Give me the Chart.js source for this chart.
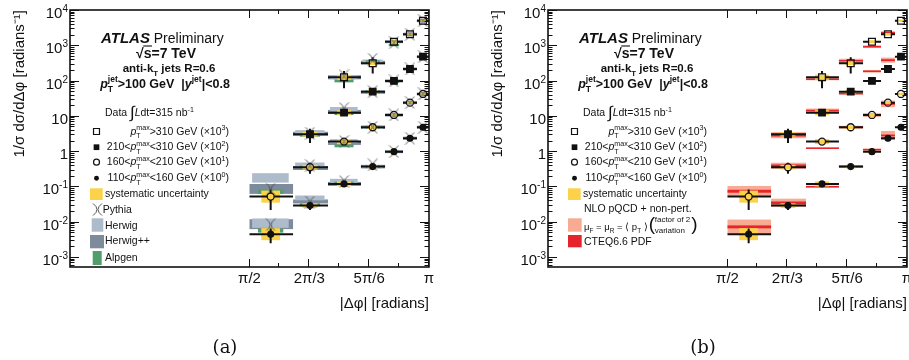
<!DOCTYPE html>
<html>
<head>
<meta charset="utf-8">
<title>Dijet azimuthal decorrelations</title>
<script src="https://cdn.jsdelivr.net/npm/chart.js@4.4.1/dist/chart.umd.min.js"></script>
<style>
  html, body { margin: 0; padding: 0; background: #fff; }
  body { width: 909px; height: 360px; position: relative; overflow: hidden; }
  .panel { position: absolute; top: 0; width: 440px; height: 360px; }
</style>
</head>
<body>
<div class="panel" style="left:0px"><canvas id="panelA"></canvas></div>
<div class="panel" style="left:478px"><canvas id="panelB"></canvas></div>
<script>
// |dphi| bins (radians)
const binEdges = [1.5708, 1.952, 2.258, 2.546, 2.757, 2.914, 3.036, 3.1416];
const binCenters = [1.756, 2.100, 2.398, 2.649, 2.835, 2.975, 3.089];

// x tick labels
const xTickValues = [Math.PI / 2, 2 * Math.PI / 3, 5 * Math.PI / 6, Math.PI];
const xTickText = ['π/2', '2π/3', '5π/6', 'π'];

// y axis range (log)
const yMin = 5.2e-4;
const yMax = 1e4;

// data, already multiplied by the legend factors
const dataHi  = [null, null, 124, 309, 1265, 2050, 4970];          // pTmax > 310 GeV (x10^3)
const dataMid = [null, 3.01, 12.3, 48.5, 97.5, 213, 475];           // 210-310 GeV (x10^2)
const dataLow = [0.0514, 0.350, 1.86, 4.75, 10.6, 23.7, 41.7];      // 160-210 GeV (x10^1)
const dataMin = [0.00443, 0.0286, 0.118, 0.364, 0.968, 2.32, 4.75]; // 110-160 GeV (x10^0)

// statistical errors (absolute)
const statHi  = [null, null, 63, 150, 63, 100, 250];
const statMid = [null, 1.3, 1.5, 3, 5, 10, 22];
const statLow = [0.03, 0.12, 0.2, 0.3, 0.5, 1.1, 2.0];
const statMin = [0.002, 0.007, 0.02, 0.025, 0.05, 0.11, 0.22];

// systematic uncertainty, multiplicative half-size per bin
const systFactor = [1.48, 1.16, 1.18, 1.12, 1.10, 1.09, 1.08];

// MC / data ratios, rows: >310, 210-310, 160-210, 110-160
const herwigRatio = [
  [null, null, 1.0, 1.14, 1.0, 1.0, 1.0],
  [null, 1.12, 1.27, 1.0, 1.0, 1.0, 1.0],
  [3.39, 1.16, 1.03, 1.0, 1.0, 1.0, 1.0],
  [2.05, 1.65, 1.22, 1.0, 1.0, 1.0, 1.0]
];
const herwigppRatio = [
  [null, null, 1.0, 1.05, 1.0, 1.0, 1.0],
  [null, 1.03, 1.05, 0.97, 1.0, 1.0, 1.0],
  [1.65, 0.95, 0.92, 1.0, 1.0, 1.0, 1.0],
  [1.92, 1.31, 1.0, 1.0, 1.0, 1.0, 1.0]
];
const alpgenRatio = [
  [null, null, 0.79, 1.1, 0.8, 1.0, 1.0],
  [null, 0.94, 0.94, 1.0, 0.95, 1.0, 1.0],
  [1.36, 1.0, 0.76, 1.0, 1.0, 1.0, 1.0],
  [1.26, 1.05, 1.05, 1.0, 1.0, 1.0, 1.0]
];
const pythiaRatio = [
  [null, null, 1.09, 1.3, 0.94, 1.0, 1.0],
  [null, 1.07, 1.3, 1.0, 1.0, 1.0, 1.0],
  [1.62, 1.11, 1.0, 1.0, 1.0, 1.0, 1.0],
  [1.83, 1.25, 1.16, 1.12, 1.0, 1.0, 1.0]
];
const herwigBand   = [1.36, 1.17, 1.14, 1.12, 1.1, 1.1, 1.1];
const herwigppBand = [1.38, 1.14, 1.14, 1.12, 1.1, 1.1, 1.1];
const alpgenBand   = [1.14, 1.1, 1.1, 1.1, 1.08, 1.08, 1.08];

// NLO pQCD + non-pert. / data, with scale band and PDF band
const nloRatio = [
  [null, null, 0.88, 1.18, 0.72, 1.1, null],
  [null, 0.94, 1.15, 0.88, 1.88, 1.78, null],
  [1.42, 1.1, 0.65, 1.0, 1.0, 0.92, null],
  [1.61, 1.2, 0.83, 1.0, 1.14, 1.2, null]
];
const nloScaleBand = [
  [null, null, 1.07, 1.14, 1.09, 1.1, null],
  [null, 1.22, 1.14, 1.07, 1.09, 1.18, null],
  [1.41, 1.22, 1.05, 1.1, 1.14, 1.24, null],
  [1.61, 1.31, 1.07, 1.09, 1.07, 1.34, null]
];
const nloPdfBand = [1.1, 1.09, 1.05, 1.05, 1.05, 1.06, null];

const FONT = '"Liberation Sans", Arial, Helvetica, sans-serif';
const COL = {
  ink: '#111', syst: '#fbd24a', herwig: '#aebbca', herwigpp: '#7d8b9c',
  alpgen: '#519d6b', scale: '#f8ab93', pdf: '#e6242b', pythia: '#555'
};

const seriesList = [
  { vals: dataHi,  stat: statHi,  shape: 'rect',   r: 4.8, filled: false },
  { vals: dataMid, stat: statMid, shape: 'rect',   r: 4.6, filled: true },
  { vals: dataLow, stat: statLow, shape: 'circle', r: 3.5, filled: false },
  { vals: dataMin, stat: statMin, shape: 'circle', r: 2.9, filled: true }
];

// Pythia marker: thin ")(" cross
const pyMark = document.createElement('canvas');
pyMark.width = 11; pyMark.height = 13;
(function () {
  const g = pyMark.getContext('2d');
  g.strokeStyle = COL.pythia; g.lineWidth = 1;
  g.beginPath();
  g.moveTo(1, 0.5); g.quadraticCurveTo(9, 6.5, 1, 12.5);
  g.moveTo(10, 0.5); g.quadraticCurveTo(2, 6.5, 10, 12.5);
  g.stroke();
})();

// ---------- rich text helpers ----------
function fontStr(p, base) {
  const size = base.size * (p.k || 1);
  const bold = p.bold !== undefined ? p.bold : base.bold;
  return (p.it ? 'italic ' : '') + (bold ? 'bold ' : '') + size + 'px ' + (p.family || FONT);
}
function richText(ctx, parts, x, yc, base, align) {
  const pos = [];
  let w = 0, hold = 0;
  parts.forEach(p => {
    ctx.font = fontStr(p, base);
    const pw = ctx.measureText(p.t).width;
    pos.push(w);
    if (p.hold) hold = Math.max(hold, pw);
    else { w += Math.max(hold, pw); hold = 0; }
  });
  w += hold;
  const x0 = align === 'center' ? x - w / 2 : align === 'right' ? x - w : x;
  const yb = yc + base.size * 0.36;
  ctx.textAlign = 'left';
  ctx.textBaseline = 'alphabetic';
  parts.forEach((p, i) => {
    ctx.font = fontStr(p, base);
    ctx.fillStyle = COL.ink;
    ctx.fillText(p.t, x0 + pos[i], yb + (p.dy || 0) * base.size);
    if (p.over) {
      const pw = ctx.measureText(p.t).width;
      ctx.strokeStyle = COL.ink; ctx.lineWidth = 1.1;
      ctx.beginPath();
      ctx.moveTo(x0 + pos[i] - 0.5, yb - base.size * 0.86);
      ctx.lineTo(x0 + pos[i] + pw + 0.5, yb - base.size * 0.86);
      ctx.stroke();
    }
  });
  return x0 + w;
}
const SUB = (t) => ({ t, k: 0.68, dy: 0.32 });
const SUP = (t) => ({ t, k: 0.68, dy: -0.45 });
const pT = (sup) => [{ t: 'p', it: true }, { t: 'T', k: 0.68, dy: 0.32, hold: true }, SUP(sup)];

function drawHeader(ctx) {
  richText(ctx, [{ t: 'ATLAS', it: true, bold: true, k: 15 / 14 }, { t: ' Preliminary' }], 101, 38, { size: 14, bold: false }, 'left');
  richText(ctx, [{ t: '√' }, { t: 's', over: true }, { t: '=7 TeV' }], 166, 53, { size: 14, bold: true }, 'center');
  richText(ctx, [{ t: 'anti-k' }, SUB('T'), { t: ' jets R=0.6' }], 169, 68, { size: 11.5, bold: true }, 'center');
  richText(ctx, [...pT('jet'), { t: '>100 GeV  |' }, { t: 'y', it: true }, SUP('jet'), { t: '|<0.8' }], 165, 83, { size: 12.5, bold: true }, 'center');
  const L = { size: 10.5, bold: false };
  richText(ctx, [{ t: 'Data ' }, { t: '∫', k: 1.6, dy: 0.18 }, { t: 'L', it: true }, { t: 'dt=315 nb' }, SUP('-1')], 105, 112.7, L, 'left');
  const rows = [
    [...pT('max'), { t: '>310 GeV (×10' }, SUP('3'), { t: ')' }],
    [{ t: '210<' }, ...pT('max'), { t: '<310 GeV (×10' }, SUP('2'), { t: ')' }],
    [{ t: '160<' }, ...pT('max'), { t: '<210 GeV (×10' }, SUP('1'), { t: ')' }],
    [{ t: '110<' }, ...pT('max'), { t: '<160 GeV (×10' }, SUP('0'), { t: ')' }]
  ];
  const rowY = [131, 146.7, 161.7, 177.7];
  rows.forEach((r, i) => {
    richText(ctx, r, 229, rowY[i], L, 'right');
    drawMarker(ctx, seriesList[i], 96.5, rowY[i] + 0.5);
  });
  ctx.fillStyle = COL.syst; ctx.fillRect(90, 188.3, 12.7, 11.7);
  richText(ctx, [{ t: 'systematic uncertainty' }], 105, 193.3, L, 'left');
}

function drawMarker(ctx, s, x, y) {
  ctx.save();
  ctx.strokeStyle = COL.ink; ctx.fillStyle = COL.ink; ctx.lineWidth = 1.2;
  ctx.beginPath();
  if (s.shape === 'rect') {
    const h = s.r * 0.62;
    ctx.rect(x - h, y - h, 2 * h, 2 * h);
  } else {
    ctx.arc(x, y, s.r * 0.85, 0, Math.PI * 2);
  }
  if (s.filled) ctx.fill(); else ctx.stroke();
  ctx.restore();
}

function legendA(ctx) {
  drawHeader(ctx);
  const L = { size: 10.5, bold: false };
  ctx.drawImage(pyMark, 92, 203);
  richText(ctx, [{ t: 'Pythia' }], 102.7, 209.3, L, 'left');
  ctx.fillStyle = COL.herwig; ctx.fillRect(91.7, 218.3, 11.6, 13.4);
  richText(ctx, [{ t: 'Herwig' }], 105, 225, L, 'left');
  ctx.fillStyle = COL.herwigpp; ctx.fillRect(90, 235, 14, 13.3);
  richText(ctx, [{ t: 'Herwig++' }], 105, 240.7, L, 'left');
  ctx.fillStyle = COL.alpgen; ctx.fillRect(92.7, 251, 9, 14);
  richText(ctx, [{ t: 'Alpgen' }], 105, 257, L, 'left');
}

function legendB(ctx) {
  drawHeader(ctx);
  const L = { size: 10.5, bold: false };
  richText(ctx, [{ t: 'NLO pQCD + non-pert.' }], 106, 208.3, L, 'left');
  ctx.fillStyle = COL.scale; ctx.fillRect(90, 218.3, 13.7, 13.4);
  const M = { size: 9.5, bold: false };
  const xe = richText(ctx, [{ t: 'μ' }, SUB('F'), { t: ' = μ' }, SUB('R'), { t: ' = ⟨ p' }, SUB('T'), { t: ' ⟩' }], 106, 226.7, M, 'left');
  ctx.fillStyle = COL.ink;
  ctx.textBaseline = 'middle'; ctx.textAlign = 'left';
  ctx.font = '19px ' + FONT;
  ctx.fillText('(', xe + 1, 225);
  ctx.font = '8px ' + FONT;
  const wf = ctx.measureText('factor of 2').width;
  ctx.fillText('factor of 2', xe + 7, 219.5);
  ctx.fillText('variation', xe + 7, 230.5);
  ctx.font = '19px ' + FONT;
  ctx.fillText(')', xe + 8 + wf, 225);
  ctx.fillStyle = COL.pdf; ctx.fillRect(90, 235, 13.7, 12.3);
  richText(ctx, [{ t: 'CTEQ6.6 PDF' }], 106, 241.7, L, 'left');
}

// ---------- plugins ----------
function bandsPlugin(mode) {
  return {
    id: 'bands',
    beforeDatasetsDraw(chart) {
      const { ctx, chartArea: a, scales: { x, y } } = chart;
      ctx.save();
      ctx.beginPath(); ctx.rect(a.left, a.top, a.right - a.left, a.bottom - a.top); ctx.clip();
      const box = (x0, x1, c, f, color) => {
        const top = y.getPixelForValue(c * f), bot = y.getPixelForValue(c / f);
        ctx.fillStyle = color; ctx.fillRect(x0, top, x1 - x0, bot - top);
      };
      seriesList.forEach((s, si) => {
        s.vals.forEach((v, i) => {
          if (v == null) return;
          const x0 = x.getPixelForValue(binEdges[i]), x1 = x.getPixelForValue(binEdges[i + 1]);
          const w = x1 - x0, cx = x.getPixelForValue(binCenters[i]);
          if (mode === 'mc') {
            box(x0, x1, v * herwigppRatio[si][i], herwigppBand[i], COL.herwigpp);
            box(x0 + 0.06 * w, x1 - 0.1 * w, v * herwigRatio[si][i], herwigBand[i], COL.herwig);
            box(cx - 0.29 * w, cx + 0.29 * w, v * alpgenRatio[si][i], alpgenBand[i], COL.alpgen);
          } else if (nloRatio[si][i] != null) {
            const c = v * nloRatio[si][i];
            box(x0, x1, c, nloScaleBand[si][i], COL.scale);
            box(x0, x1, c, nloPdfBand[i], COL.pdf);
          }
          box(cx - 0.215 * w, cx + 0.215 * w, v, systFactor[i], COL.syst);
        });
      });
      // data error bars
      ctx.strokeStyle = COL.ink; ctx.lineWidth = 2;
      ctx.beginPath();
      seriesList.forEach(s => {
        s.vals.forEach((v, i) => {
          if (v == null) return;
          const x0 = x.getPixelForValue(binEdges[i]), x1 = x.getPixelForValue(binEdges[i + 1]);
          const cx = x.getPixelForValue(binCenters[i]), yc = y.getPixelForValue(v);
          const gap = s.filled ? 0 : (s.shape === 'rect' ? s.r * 0.707 : s.r);
          const e = s.stat[i];
          const yt = y.getPixelForValue(v + e);
          const yb = v - e > 0 ? y.getPixelForValue(v - e) : a.bottom;
          ctx.moveTo(x0, yc); ctx.lineTo(cx - gap, yc);
          ctx.moveTo(cx + gap, yc); ctx.lineTo(x1, yc);
          if (yc - yt > gap) { ctx.moveTo(cx, yt); ctx.lineTo(cx, yc - gap); }
          if (yb - yc > gap) { ctx.moveTo(cx, yc + gap); ctx.lineTo(cx, yb); }
        });
      });
      ctx.stroke();
      ctx.restore();
    }
  };
}

function framePlugin(legend, caption) {
  return {
    id: 'frame',
    afterDraw(chart) {
      const { ctx, chartArea: a, scales: { x, y } } = chart;
      ctx.save();
      ctx.strokeStyle = COL.ink; ctx.lineWidth = 1;
      ctx.beginPath();
      for (let k = 0; k <= 6; k++) {
        const px = Math.round(x.getPixelForValue(Math.PI / 2 + k * Math.PI / 12)) - 0.5;
        const len = k % 2 === 0 ? 8 : 4;
        ctx.moveTo(px, a.bottom); ctx.lineTo(px, a.bottom - len);
        ctx.moveTo(px, a.top); ctx.lineTo(px, a.top + len);
      }
      for (let d = -4; d <= 4; d++) {
        for (let m = 1; m <= 9; m++) {
          const v = m * Math.pow(10, d);
          if (v < y.min || v > y.max) continue;
          const py = Math.round(y.getPixelForValue(v)) + 0.5;
          const len = m === 1 ? 9 : 4.5;
          ctx.moveTo(a.left, py); ctx.lineTo(a.left + len, py);
          ctx.moveTo(a.right, py); ctx.lineTo(a.right - len, py);
        }
      }
      ctx.stroke();
      ctx.lineWidth = 1.6;
      ctx.strokeRect(a.left, a.top, a.right - a.left, a.bottom - a.top);

      // y tick labels: 10^n
      ctx.fillStyle = COL.ink; ctx.textAlign = 'left'; ctx.textBaseline = 'alphabetic';
      for (let d = -3; d <= 4; d++) {
        const py = y.getPixelForValue(Math.pow(10, d));
        const mant = d === 0 ? '1' : '10';
        const exp = (d === 0 || d === 1) ? '' : String(d);
        ctx.font = '15px ' + FONT; const wm = ctx.measureText(mant).width;
        ctx.font = '10px ' + FONT; const we = exp ? ctx.measureText(exp).width : 0;
        const right = a.left - 2;
        ctx.font = '15px ' + FONT;
        ctx.fillText(mant, right - we - wm, py + 8);
        if (exp) { ctx.font = '10px ' + FONT; ctx.fillText(exp, right - we, py + 2); }
      }
      legend(ctx);
      ctx.fillStyle = COL.ink;
      ctx.font = '18px "DejaVu Serif", "Liberation Serif", serif';
      ctx.textAlign = 'center'; ctx.textBaseline = 'middle';
      ctx.fillText(caption, 225, 348);
      ctx.restore();
    }
  };
}

// ---------- charts ----------
function buildChart(id, mode, legend, caption) {
  const datasets = seriesList.map(s => ({
    data: binCenters.map((x, i) => s.vals[i] == null ? null : { x, y: s.vals[i] }).filter(Boolean),
    pointStyle: s.shape, pointRadius: s.r, pointHoverRadius: s.r,
    pointBackgroundColor: s.filled ? COL.ink : 'rgba(0,0,0,0)',
    pointBorderColor: COL.ink, pointBorderWidth: 1.3, showLine: false
  }));
  if (mode === 'mc') {
    const pts = [];
    seriesList.forEach((s, si) => s.vals.forEach((v, i) => {
      if (v != null) pts.push({ x: binCenters[i], y: v * pythiaRatio[si][i] });
    }));
    datasets.push({ data: pts, pointStyle: pyMark, pointRadius: 5, showLine: false });
  }
  return new Chart(document.getElementById(id), {
    type: 'scatter',
    data: { datasets },
    options: {
      responsive: true, maintainAspectRatio: false, animation: false, devicePixelRatio: 1,
      events: [],
      layout: { padding: { top: 10, right: 11, left: 0, bottom: 0 } },
      plugins: { legend: { display: false }, tooltip: { enabled: false } },
      scales: {
        x: {
          type: 'linear', min: 0, max: Math.PI,
          grid: { display: false, drawTicks: false }, border: { display: false },
          afterBuildTicks: sc => { sc.ticks = xTickValues.map(v => ({ value: v })); },
          afterFit: sc => { sc.height = 93; },
          ticks: { autoSkip: false, maxRotation: 0, padding: 3, color: COL.ink, font: { size: 15, family: FONT },
                   callback: (v, i) => xTickText[i] },
          title: { display: true, text: '|Δφ| [radians]', align: 'end', color: COL.ink,
                   font: { size: 15, family: FONT }, padding: { top: 0, bottom: 47 } }
        },
        y: {
          type: 'logarithmic', min: yMin, max: yMax,
          grid: { display: false, drawTicks: false }, border: { display: false },
          ticks: { display: false },
          afterFit: sc => { sc.width = 70; },
          title: { display: true, text: '1/σ dσ/dΔφ [radians⁻¹]', align: 'end', color: COL.ink,
                   font: { size: 15, family: FONT }, padding: { top: 11, bottom: 0 } }
        }
      }
    },
    plugins: [bandsPlugin(mode), framePlugin(legend, caption)]
  });
}

buildChart('panelA', 'mc', legendA, '(a)');
buildChart('panelB', 'nlo', legendB, '(b)');
</script>
</body>
</html>
